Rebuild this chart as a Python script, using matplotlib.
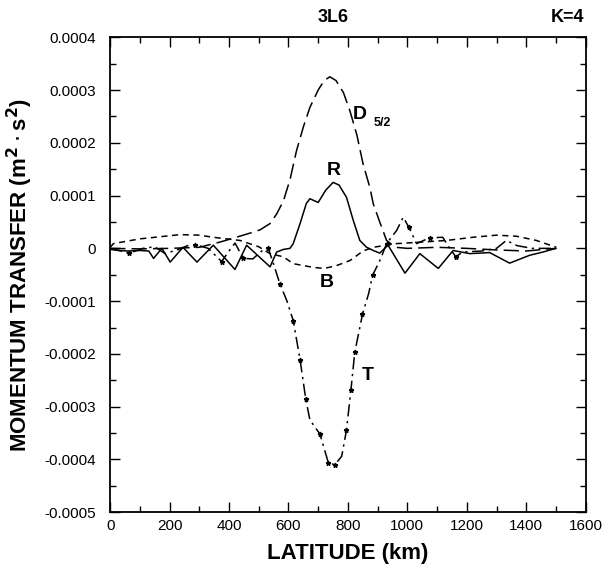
import matplotlib
matplotlib.use("Agg")
import matplotlib.pyplot as plt
import numpy as np
from matplotlib.ticker import MultipleLocator

plt.rcParams['font.family'] = ['Liberation Sans', 'DejaVu Sans']

SCALE = 1e-4

# D 5/2 curve (latitude km, momentum transfer in 1e-4 units)
d_lat = [0, 100, 200, 300, 370, 430, 471, 504, 538, 560, 583, 605, 627, 650, 672,
         700, 720, 739, 760, 785, 807, 830, 851, 874, 885, 907, 930, 960, 1000,
         1100, 1200, 1300, 1400, 1500]
d_val = [0.0, -0.01, 0.0, 0.02, 0.12, 0.22, 0.29, 0.35, 0.47, 0.65, 0.90, 1.30, 1.85,
         2.30, 2.67, 3.00, 3.18, 3.25, 3.18, 2.95, 2.60, 2.15, 1.60, 1.15, 0.85, 0.50,
         0.15, 0.02, 0.0, 0.02, 0.0, -0.03, -0.05, 0.0]

# R curve
r_lat = [0, 30, 60, 100, 130, 146, 174, 202, 245, 292, 347, 420, 459, 538, 560, 583,
         605, 616, 639, 660, 672, 700, 725, 750, 770, 795, 818, 840, 863, 885, 907,
         935, 992, 1042, 1104, 1154, 1210, 1277, 1344, 1412, 1456, 1500]
r_val = [-0.02, -0.04, -0.05, -0.04, -0.05, -0.19, 0.0, -0.26, 0.02, -0.26, 0.06,
         -0.40, 0.06, -0.35, -0.07, -0.02, 0.0, 0.09, 0.47, 0.85, 0.94, 0.87, 1.10,
         1.25, 1.20, 0.97, 0.53, 0.15, 0.02, -0.04, -0.09, 0.06, -0.47, -0.10, -0.38,
         -0.04, -0.10, -0.08, -0.28, -0.13, -0.07, 0.0]

# B curve
b_lat = [0, 11, 100, 235, 300, 347, 437, 500, 538, 583, 616, 683, 720, 760, 807, 851,
         885, 964, 1050, 1132, 1220, 1300, 1367, 1434, 1501]
b_val = [0.02, 0.09, 0.18, 0.26, 0.25, 0.21, 0.15, 0.03, -0.10, -0.16, -0.29, -0.36,
         -0.38, -0.33, -0.23, -0.05, 0.02, 0.09, 0.12, 0.15, 0.21, 0.25, 0.23, 0.15,
         0.02]

# T curve
t_lat = [0, 65, 110, 150, 185, 230, 260, 286, 330, 375, 400, 420, 448, 480, 510, 532,
         550, 571, 595, 616, 639, 658, 672, 706, 734, 756, 779, 795, 810, 823, 849,
         870, 883, 910, 930, 964, 986, 1005, 1031, 1075, 1119, 1143, 1163, 1186, 1250,
         1300, 1333, 1370, 1420, 1500]
t_val = [0.0, -0.09, 0.0, 0.03, -0.10, -0.02, 0.05, 0.07, 0.0, -0.25, -0.05, 0.10,
         -0.19, -0.20, -0.05, 0.0, -0.30, -0.67, -1.00, -1.37, -2.11, -2.85, -3.25,
         -3.52, -4.06, -4.10, -3.94, -3.45, -2.69, -1.97, -1.25, -0.85, -0.51, -0.20,
         0.09, 0.34, 0.59, 0.40, 0.09, 0.20, 0.21, 0.0, -0.16, -0.07, -0.05, 0.0, 0.15,
         0.05, 0.0, 0.0]
t_star_lat = [65, 286, 375, 448, 532, 571, 616, 639, 658, 706, 734, 756, 795, 810, 823,
              849, 883, 930, 1005, 1075, 1163]

x_ticks = [0, 200, 400, 600, 800, 1000, 1200, 1400, 1600]
y_ticks = [-0.0005, -0.0004, -0.0003, -0.0002, -0.0001, 0, 0.0001, 0.0002, 0.0003, 0.0004]
y_tick_labels = ['-0.0005', '-0.0004', '-0.0003', '-0.0002', '-0.0001', '0',
                 '0.0001', '0.0002', '0.0003', '0.0004']

fig = plt.figure(figsize=(6.12, 5.73), dpi=100)
ax = fig.add_axes([0.18, 0.106, 0.777, 0.829])

lw = 1.1
ax.plot(d_lat, np.array(d_val) * SCALE, color='black', lw=lw, dashes=(10, 4))
ax.plot(r_lat, np.array(r_val) * SCALE, color='black', lw=lw)
ax.plot(b_lat, np.array(b_val) * SCALE, color='black', lw=lw, dashes=(4, 3))
star_idx = [t_lat.index(v) for v in t_star_lat]
ax.plot(t_lat, np.array(t_val) * SCALE, color='black', lw=lw, dashes=(8, 3, 1.5, 3),
        marker='*', markersize=3.5, markevery=star_idx)

ax.set_xlim(0, 1600)
ax.set_ylim(-0.0005, 0.0004)
ax.set_xticks(x_ticks)
ax.set_xticklabels([str(v) for v in x_ticks])
ax.set_yticks(y_ticks)
ax.set_yticklabels(y_tick_labels)
ax.xaxis.set_minor_locator(MultipleLocator(100))
ax.yaxis.set_minor_locator(MultipleLocator(0.00005))
ax.tick_params(which='both', direction='in', top=True, right=True, labelsize=11)
ax.tick_params(which='major', length=7, width=1)
ax.tick_params(which='minor', length=4, width=1)
ax.tick_params(axis='x', which='major', pad=5)
ax.tick_params(axis='y', which='major', pad=10)
for s in ax.spines.values():
    s.set_linewidth(1.3)

ax.set_xlabel('LATITUDE (km)', fontsize=16, fontweight='bold', va='center')
ax.set_ylabel(r'MOMENTUM TRANSFER (m$^{\mathbf{2}}\cdot$s$^{\mathbf{2}}$)', fontsize=16,
              fontweight='bold', va='center')
ax.xaxis.set_label_coords(0.5, -0.086)
ax.yaxis.set_label_coords(-0.189, 0.5)

# curve labels
ax.text(840, 2.54e-4, 'D', fontsize=14, fontweight='bold', ha='center', va='center')
ax.text(915, 2.38e-4, '5/2', fontsize=9, fontweight='bold', ha='center', va='center')
ax.text(751, 1.47e-4, 'R', fontsize=14, fontweight='bold', ha='center', va='center')
ax.text(728, -0.64e-4, 'B', fontsize=14, fontweight='bold', ha='center', va='center')
ax.text(866, -2.4e-4, 'T', fontsize=14, fontweight='bold', ha='center', va='center')

fig.text(333 / 612, 1 - 18 / 573, '3L6', fontsize=13, fontweight='bold',
         ha='center', va='center')
fig.text(568 / 612, 1 - 18 / 573, 'K=4', fontsize=13, fontweight='bold',
         ha='center', va='center')

fig.savefig('out.png', dpi=100)
